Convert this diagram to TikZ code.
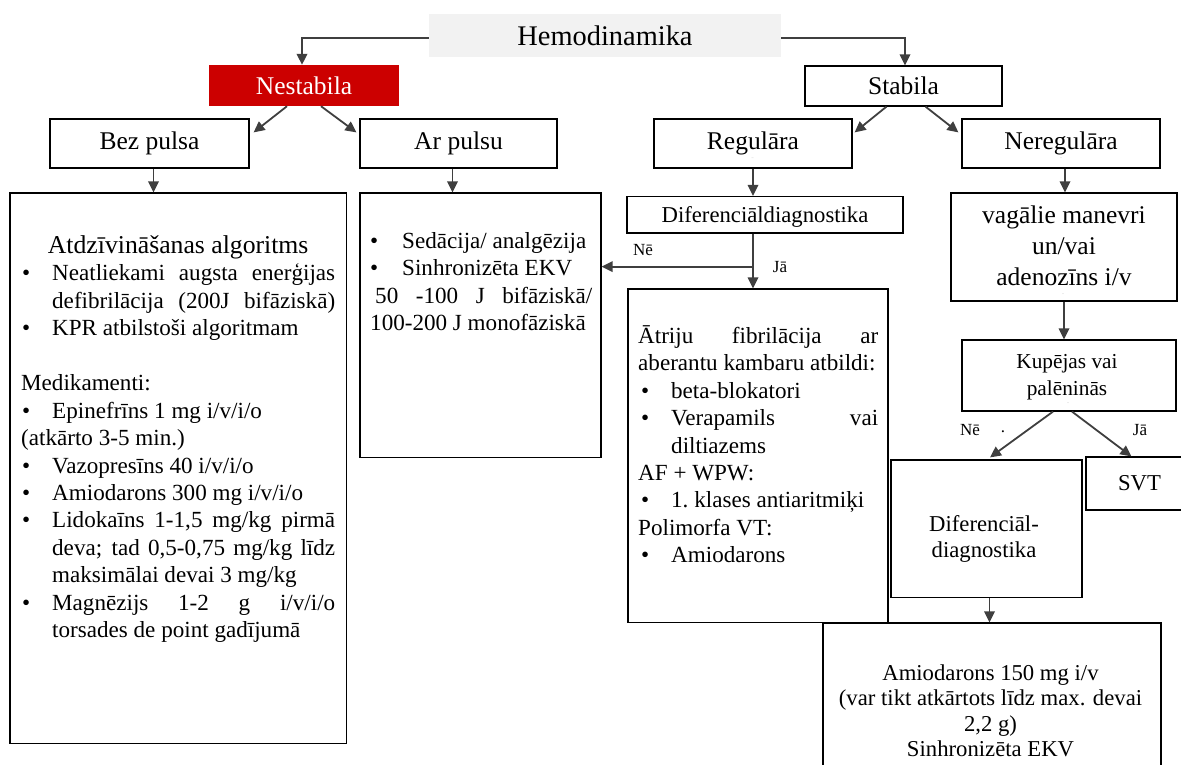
\documentclass[tikz,border=0pt]{standalone}
\usepackage{fontspec}
\setmainfont{Liberation Serif}
\usetikzlibrary{arrows.meta,calc}

% bulleted paragraph with hanging indent
\newlength\bhang
\newlength\bshift
\newcommand\itm[1]{\par\hangindent=\bhang\hangafter=1\noindent\makebox[\bhang][l]{\hspace*{\bshift}\textbullet}#1\par}
% same, with the last line set to full width
\newcommand\itmj[1]{\par\begingroup\parfillskip=0pt\hangindent=\bhang\hangafter=1\noindent\makebox[\bhang][l]{\hspace*{\bshift}\textbullet}#1\par\endgroup}
\newcommand\boxsetup{\parindent=0pt\parskip=0pt\tolerance=10000\hbadness=10000\emergencystretch=0pt}

\definecolor{alarm}{HTML}{CC0000}
\definecolor{panel}{HTML}{F2F2F2}
\definecolor{wire}{HTML}{3F3F3F}

\tikzset{
  box/.style={draw=black, line width=1.2pt, fill=white, inner sep=0pt},
  corners/.style n args={4}{at={({(#1+#3)/2},{(#2+#4)/2})}, minimum width={(#3)-(#1)}, minimum height={(#4)-(#2)}, inner sep=0pt},
  lbl/.style={font=\fontsize{25.5}{30}\selectfont},
  body/.style={font=\fontsize{22.7}{27.45}\selectfont, inner sep=0pt},
  para/.style={font=\fontsize{23.1}{27.45}\selectfont, inner sep=0pt, align=justify, anchor=north west},
  tag/.style={font=\fontsize{17}{20}\selectfont, inner sep=0pt},
  arr/.style={draw=wire, line width=1.8pt, -{Triangle[length=11pt,width=10.5pt]}},
  dots/.style={font=\fontsize{4}{4}\selectfont, text=black!45, inner sep=0pt},
}

\begin{document}
\begin{tikzpicture}[x=1pt,y=-1pt]
\useasboundingbox (0,0) rectangle (1181,764);

% ---- top levels
\node[fill=panel, corners={429}{14}{781}{57}, font=\fontsize{28.4}{32}\selectfont] (hemo) {Hemodinamika};
\node[fill=alarm, corners={209}{65}{399}{106}, lbl, text=white] (nest) {Nestabila};
\node[box, corners={805}{66}{1002}{106}, lbl] (stab) {Stabila};
\node[box, corners={50}{119}{249}{168}, lbl] (bez) {Bez pulsa};
\node[box, corners={360}{119}{557}{168}, lbl] (arp) {Ar pulsu};
\node[box, corners={654}{119}{852}{168}, lbl] (reg) {Regulāra};
\node[box, corners={962}{119}{1160}{168}, lbl] (nereg) {Neregulāra};

% ---- content boxes
\node[box, corners={10}{193}{346.5}{743.5}] (cpr) {};
\node[box, corners={360}{193}{601}{457.5}] (sync) {};
\node[box, corners={627}{196.5}{903}{233}, body, text depth=0pt] (dd) {Diferenciāldiagnostika};
\node[box, corners={628}{289}{888}{622.5}] (af) {};
\node[box, corners={951}{193}{1177}{301}] (vag) {};
\node[box, corners={962}{340}{1176}{411}] (kup) {};
\node[box, corners={891}{460}{1082}{597.5}] (dd2) {};
\node[box, corners={1086}{457}{1193}{510}, body] (svt) {SVT};
\node[box, corners={823}{623}{1161}{790}] (amio) {};

% ---- box texts
\node[para, text width=314pt] (cprtxt) at (21,234) {\boxsetup\setlength\bhang{31pt}\setlength\bshift{1pt}%
{\centering\fontsize{25.7}{27.45}\selectfont\strut Atdzīvināšanas algoritms\par}
\itmj{Neatliekami augsta enerģijas\linebreak defibrilācija (200J bifāziskā)}
\itm{KPR atbilstoši algoritmam}
\mbox{}\par
Medikamenti:\par
\itm{Epinefrīns 1 mg i/v/i/o}
(atkārto 3-5 min.)\par
\itm{Vazopresīns 40 i/v/i/o}
\itm{Amiodarons 300 mg i/v/i/o}
\itm{Lidokaīns 1-1,5 mg/kg pirmā\linebreak deva; tad 0,5-0,75 mg/kg līdz\linebreak maksimālai devai 3 mg/kg}
\itm{Magnēzijs 1-2 g i/v/i/o\linebreak torsades de point gadījumā}};

\node[para, text width=222pt] (synctxt) at (370,220.8) {\boxsetup\setlength\bhang{32pt}\setlength\bshift{0pt}%
\itm{\strut Sedācija/ analgēzija}
\itm{Sinhronizēta EKV}
\hspace*{5pt}50 -100 J bifāziskā/\linebreak 100-200 J monofāziskā\par};

\node[para, text width=240pt] (aftxt) at (638,323.8) {\boxsetup\setlength\bhang{33pt}\setlength\bshift{3pt}%
\strut Ātriju fibrilācija ar\linebreak aberantu kambaru atbildi:\par
\itm{beta-blokatori}
\itm{Verapamils vai\linebreak diltiazems}
AF + WPW:\par
\itm{1.\ klases antiaritmiķi}
Polimorfa VT:\par
\itm{Amiodarons}};

\node[inner sep=0pt, anchor=north, align=center, font=\fontsize{25.5}{30.7}\selectfont] (vagtxt) at (1064,202)
  {\strut vagālie manevri\\un/vai\\adenozīns i/v};
\node[inner sep=0pt, anchor=north, align=center, font=\fontsize{21.3}{27.4}\selectfont] (kuptxt) at (1067,349)
  {\strut Kupējas vai\\palēninās};
\node[inner sep=0pt, anchor=north, align=center, font=\fontsize{22.7}{26}\selectfont] (dd2txt) at (984,513)
  {\strut Diferenciāl-\\diagnostika};
\node[inner sep=0pt, anchor=north, align=center, font=\fontsize{22.7}{25.5}\selectfont] (amiotxt) at (990.5,662)
  {\strut Amiodarons 150 mg i/v\\(var tikt atkārtots līdz max. devai\\2,2 g)\\Sinhronizēta EKV};

% ---- faint marks left under some labels
\node[dots] (m1) at (752.5,158) {..};
\node[dots] (m2) at (1061,158) {..};
\node[dots] (m3) at (1063,294) {..};
\node[dots] (m4) at (1068,403) {..};

% ---- connectors
\draw[arr] ($(hemo.west)+(0,2.5)$) -| ($(nest.north)+(-2,0)$);
\draw[arr] ($(hemo.east)+(0,2.5)$) -| ($(stab.north)+(1.5,0)$);
\draw[arr] ($(nest.south)+(-17,0)$) -- ($(bez.north east)+(4,14)$);
\draw[arr] ($(nest.south)+(17,0)$) -- ($(arp.north west)+(-3,14)$);
\draw[arr] ($(stab.south)+(-17,0)$) -- ($(reg.north east)+(2,14)$);
\draw[arr] ($(stab.south)+(22,0)$) -- ($(nereg.north west)+(-3,14)$);

\coordinate (c1) at ($(bez.south)+(4,0)$);
\draw[arr] (c1) -- (c1 |- cpr.north);
\coordinate (c2) at ($(arp.south)+(-6,0)$);
\draw[arr] (c2) -- (c2 |- sync.north);
\draw[arr] (reg.south) -- (reg.south |- dd.north);
\draw[arr] (reg.south |- dd.south) -- (reg.south |- af.north);
\coordinate (split) at ($(reg.south |- dd.south)+(0,33)$);
\draw[arr] (split) -- (split -| sync.east);

\coordinate (c3) at ($(nereg.south)+(4,0)$);
\draw[arr] (c3) -- (c3 |- vag.north);
\draw[arr] (vag.south) -- (vag.south |- kup.north);
\draw[arr] ($(kup.south)+(-16,0)$) -- ($(dd2.north)+(3.5,-2)$);
\draw[arr] ($(kup.south)+(3,0)$) -- ($(svt.north west)+(46,0)$);
\coordinate (c4) at ($(dd2.south)+(3,0)$);
\draw[arr] (c4) -- (c4 |- amio.north);

% ---- branch labels
\node[tag] (no1) at (643,250) {Nē};
\node[tag] (yes1) at (780,267) {Jā};
\node[tag] (no2) at (970,430) {Nē};
\node[tag] (pt) at (1003,432) {.};
\node[tag] (yes2) at (1140,430) {Jā};
\end{tikzpicture}
\end{document}
